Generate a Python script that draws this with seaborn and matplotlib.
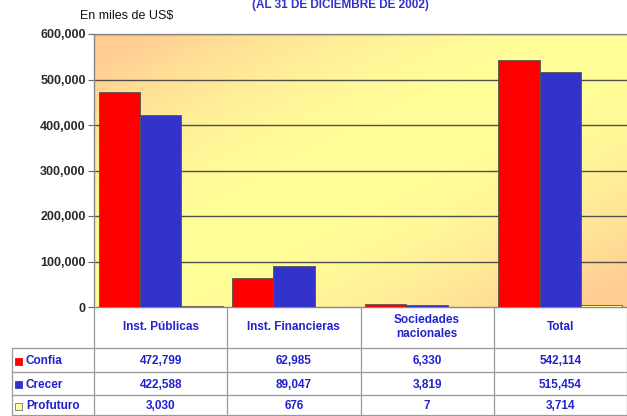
import numpy as np
import pandas as pd
import matplotlib
matplotlib.use("Agg")
import matplotlib.pyplot as plt
from matplotlib.lines import Line2D
from matplotlib.patches import Rectangle
import seaborn as sns

categories = ["Inst. Públicas", "Inst. Financieras", "Sociedades\nnacionales", "Total"]
series_names = ["Confia", "Crecer", "Profuturo"]
confia = [472799, 62985, 6330, 542114]
crecer = [422588, 89047, 3819, 515454]
profuturo = [3030, 676, 7, 3714]
colors = ["#FF0000", "#3333CC", "#FFFF99"]
yticks = [0, 100000, 200000, 300000, 400000, 500000, 600000]

df = pd.DataFrame({
    "cat": categories * 3,
    "serie": [s for s in series_names for _ in categories],
    "val": confia + crecer + profuturo,
})

sns.set_style("white")
plt.rcParams["font.family"] = ["Liberation Sans Narrow", "Liberation Sans", "DejaVu Sans"]

W, H = 627, 416
fig = plt.figure(figsize=(W / 100, H / 100), dpi=100)
L, R, T, B = 94, 627, 34, 307
ax = fig.add_axes([L / W, 1 - B / H, (R - L) / W, (B - T) / H])

# gradient background
nx, ny = 300, 160
xx, yy = np.meshgrid(np.linspace(0, 1, nx), np.linspace(1, 0, ny))
t = np.clip(np.abs(xx - yy) * 1.1, 0, 1) ** 1.9
yellow = np.array([1.0, 1.0, 0.6])
peach = np.array([1.0, 0.80, 0.58])
img = yellow[None, None, :] * (1 - t[..., None]) + peach[None, None, :] * t[..., None]
ax.imshow(img, extent=[0, 1, 0, 1], transform=ax.transAxes, aspect="auto", zorder=0)

sns.barplot(data=df, x="cat", y="val", hue="serie", palette=colors, width=0.93,
            edgecolor="#555555", linewidth=0.6, ax=ax, legend=False, zorder=3,
            saturation=1)
ax.set_xlim(-0.5, 3.5)
ax.set_ylim(0, 600000)
ax.set_yticks(yticks)
ax.set_yticklabels([f"{v:,}" for v in yticks], fontsize=9, fontweight="bold", color="#2a2a2a")
ax.set_xticks([])
ax.set_xlabel("")
ax.set_ylabel("")
for v in yticks[1:]:
    ax.axhline(v, color="#505050", lw=1.0, zorder=1)
ax.tick_params(axis="y", direction="out", length=4, width=0.8, color="#666666", left=True, pad=2)
for s in ["left", "top", "bottom"]:
    ax.spines[s].set_color("#888888")
    ax.spines[s].set_linewidth(1.0)
ax.spines["right"].set_visible(False)

# title and unit label
fig.text(340 / W, 1 - 5 / H, "(AL 31 DE DICIEMBRE DE 2002)", ha="center", va="center",
         fontsize=8.5, fontweight="bold", color="#3333CC")
fig.text(80 / W, 1 - 16 / H, "En miles de US$", ha="left", va="center", fontsize=9, color="#111111")

# data table under the plot
def fx(px):
    return px / W

def fy(py):
    return 1 - py / H

line_kw = dict(color="#999999", lw=0.9, transform=fig.transFigure)
col_edges = [L + (R - L) * i / 4 for i in range(5)]
for xe in col_edges:
    fig.add_artist(Line2D([fx(xe), fx(xe)], [fy(B), fy(416)], **line_kw))
rows_y = [348, 372, 395, 415]
fig.add_artist(Line2D([fx(12), fx(12)], [fy(348), fy(416)], **line_kw))
for ry in rows_y:
    fig.add_artist(Line2D([fx(12), fx(R)], [fy(ry), fy(ry)], **line_kw))

txt_color = "#2222CC"
for i, c in enumerate(categories):
    cx = (col_edges[i] + col_edges[i + 1]) / 2
    fig.text(fx(cx), fy(327), c, ha="center", va="center", fontsize=8.5,
             fontweight="bold", color=txt_color, linespacing=1.3)

series_vals = [confia, crecer, profuturo]
for r, (name, vals, col) in enumerate(zip(series_names, series_vals, colors)):
    cy = (rows_y[r] + rows_y[r + 1]) / 2 + 1
    fig.add_artist(Rectangle((fx(15), fy(cy + 3.5)), 7 / W, 7 / H, transform=fig.transFigure,
                             facecolor=col, edgecolor="#777777" if r == 2 else col, lw=0.6))
    fig.text(fx(26), fy(cy), name, ha="left", va="center", fontsize=8.5,
             fontweight="bold", color=txt_color)
    for i, v in enumerate(vals):
        cx = (col_edges[i] + col_edges[i + 1]) / 2
        fig.text(fx(cx), fy(cy), f"{v:,}", ha="center", va="center", fontsize=8.5,
                 fontweight="bold", color=txt_color)

fig.savefig("out.png", dpi=100, facecolor="white")
